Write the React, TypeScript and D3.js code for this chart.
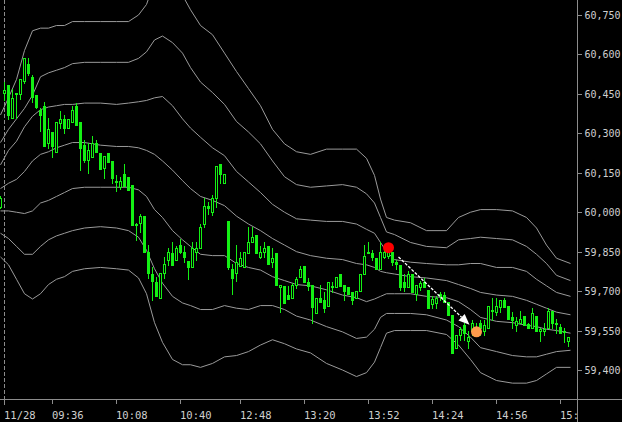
import React from "react";
import * as d3 from "d3";

// ---- candle data (index 0 = previous session's last bar) ----
const opens = [60020,60455,60485,60360,60450,60450,60500,60565,60515,60445,60390,60405,60265,60305,60230,60340,60355,60320,60345,60405,60345,60255,60200,60210,60265,60225,60170,60225,60195,60120,60095,60145,60135,60105,59950,59960,59985,59850,59765,59735,59675,59770,59820,59845,59820,59875,59850,59815,59790,59850,59865,59955,60025,60000,60055,60185,60110,59965,59785,59770,59795,59790,59845,59885,59915,59830,59850,59870,59810,59845,59715,59720,59685,59675,59725,59755,59795,59735,59725,59615,59675,59665,59645,59715,59715,59765,59725,59715,59695,59675,59700,59765,59845,59845,59825,59785,59830,59835,59850,59810,59800,59735,59715,59765,59690,59715,59735,59705,59650,59655,59690,59685,59660,59610,59485,59535,59570,59510,59550,59560,59580,59550,59560,59625,59620,59640,59665,59645,59600,59570,59580,59605,59575,59560,59605,59550,59550,59560,59625,59575,59565,59550,59510];
const highs = [60060,60495,60485,60470,60455,60505,60585,60585,60520,60445,60395,60420,60360,60305,60345,60385,60370,60355,60405,60415,60345,60275,60265,60290,60275,60225,60215,60225,60195,60140,60135,60185,60135,60105,59960,59995,59985,59875,59790,59755,59770,59830,59865,59885,59870,59900,59870,59815,59885,59885,59955,60055,60040,60065,60175,60185,60145,59965,59805,59875,59850,59850,59945,59945,59915,59870,59885,59870,59865,59845,59725,59720,59720,59730,59755,59795,59795,59750,59725,59675,59725,59695,59735,59735,59755,59765,59725,59715,59695,59700,59765,59875,59885,59855,59825,59885,59855,59870,59850,59820,59800,59765,59775,59765,59725,59740,59750,59705,59680,59680,59695,59695,59660,59610,59535,59565,59580,59550,59590,59580,59590,59590,59645,59675,59675,59665,59675,59645,59620,59600,59625,59605,59580,59635,59605,59560,59580,59635,59625,59595,59575,59560,59525];
const lows = [60015,60425,60355,60360,60360,60430,60490,60520,60420,60395,60310,60250,60245,60210,60230,60320,60300,60320,60345,60330,60160,60190,60150,60210,60230,60165,60130,60190,60110,60080,60090,60100,60085,59950,59895,59925,59850,59750,59665,59680,59675,59750,59800,59800,59820,59845,59810,59745,59790,59820,59865,59945,59995,59990,60020,60110,60110,59785,59690,59740,59795,59790,59845,59885,59845,59825,59830,59805,59790,59725,59620,59655,59670,59675,59710,59755,59735,59705,59580,59615,59660,59620,59645,59695,59715,59720,59665,59690,59650,59675,59700,59765,59845,59820,59785,59785,59825,59825,59800,59785,59705,59700,59715,59695,59665,59705,59715,59635,59635,59635,59665,59660,59610,59465,59485,59515,59515,59485,59535,59530,59535,59535,59560,59590,59610,59620,59640,59595,59560,59550,59580,59570,59560,59560,59550,59510,59535,59560,59560,59540,59540,59505,59490];
const closes = [60055,60465,60370,60435,60455,60505,60585,60530,60440,60400,60370,60250,60315,60250,60345,60355,60320,60355,60390,60330,60245,60200,60235,60265,60230,60165,60215,60190,60130,60115,60120,60100,60085,59950,59955,59985,59850,59770,59740,59680,59770,59805,59850,59800,59865,59850,59830,59790,59865,59865,59945,60025,60015,60055,60175,60145,60145,59790,59750,59810,59825,59850,59885,59905,59845,59850,59865,59805,59825,59725,59725,59655,59670,59725,59745,59785,59735,59720,59640,59675,59660,59635,59735,59720,59755,59720,59700,59690,59665,59700,59765,59835,59850,59830,59785,59850,59850,59850,59810,59805,59715,59715,59765,59695,59725,59730,59715,59635,59670,59675,59680,59660,59610,59465,59535,59555,59540,59525,59580,59540,59560,59570,59645,59630,59645,59665,59640,59595,59590,59585,59595,59570,59560,59615,59550,59555,59555,59625,59580,59580,59540,59545,59525];

// ---- band lines (sampled at bar positions) ----
const bandIdx = [0,2,4,6,8,10,12,14,16,18,21,25,29,32,34.5,36.5,38.5,40.5,43,45.5,47.5,50,53,56,59,62,65,68,71,74,77.5,81.5,85.5,89,91.5,93.5,95,96.5,98.5,102.5,106.5,111.5,114.5,117.5,120,124,128,131.5,134,136.5,139,142.5];
const bandP3 = [60370,60435,60505,60615,60690,60700,60700,60710,60710,60725,60725,60725,60725,60725,60750,60790,60875,60905,60875,60825,60770,60710,60675,60605,60535,60470,60405,60315,60260,60230,60220,60240,60240,60240,60205,60140,60050,59980,59970,59960,59930,59930,59980,60000,60010,60010,60005,59980,59940,59875,59825,59805];
const bandP2 = [60265,60315,60355,60395,60445,60515,60530,60540,60550,60565,60570,60570,60570,60570,60585,60610,60655,60670,60645,60605,60550,60495,60455,60410,60345,60305,60260,60195,60135,60105,60095,60100,60105,60095,60070,60035,59980,59925,59915,59885,59870,59865,59895,59900,59905,59900,59895,59870,59840,59805,59760,59740];
const bandP1 = [60180,60235,60270,60325,60365,60390,60400,60405,60410,60410,60415,60415,60410,60415,60420,60425,60435,60440,60405,60355,60320,60285,60245,60215,60155,60115,60075,60030,60000,59975,59970,59965,59965,59955,59935,59920,59885,59850,59820,59810,59805,59800,59800,59805,59805,59790,59790,59775,59745,59720,59695,59680];
const bandMid = [60090,60110,60125,60155,60195,60220,60230,60245,60255,60265,60265,60255,60250,60250,60245,60235,60220,60195,60160,60120,60090,60060,60045,60025,59985,59955,59930,59900,59875,59850,59835,59825,59820,59805,59800,59790,59775,59770,59765,59755,59750,59740,59725,59710,59695,59685,59680,59665,59650,59635,59620,59610];
const bandM1 = [60005,60005,60000,59995,60005,60035,60045,60060,60075,60090,60095,60095,60095,60095,60085,60060,60010,59980,59930,59895,59870,59840,59835,59835,59805,59790,59780,59755,59740,59725,59720,59705,59685,59675,59660,59670,59680,59690,59690,59690,59680,59675,59660,59630,59600,59585,59580,59570,59565,59555,59550,59540];
const bandM2 = [59920,59900,59870,59840,59840,59870,59895,59910,59920,59930,59940,59945,59940,59930,59905,59855,59785,59730,59680,59655,59645,59630,59630,59645,59635,59630,59645,59645,59630,59605,59590,59565,59545,59520,59525,59555,59600,59615,59615,59615,59610,59590,59565,59525,59485,59470,59455,59450,59450,59460,59470,59475];
const bandM3 = [59830,59800,59745,59690,59670,59690,59725,59745,59755,59775,59785,59790,59785,59780,59750,59690,59580,59505,59440,59420,59420,59410,59425,59450,59455,59470,59495,59515,59500,59480,59465,59425,59400,59375,59390,59430,59485,59540,59550,59550,59550,59535,59495,59440,59390,59360,59350,59350,59360,59385,59410,59410];

// ---- axes ----
const priceTicks = [59400,59550,59700,59850,60000,60150,60300,60450,60600,60750];
const timeTickIdx = [1,13,29,45,60,76,92,108,124,140];
const timeLabels = ["11/28","09:36","10:08","10:40","12:48","13:20","13:52","14:24","14:56","15:"];

// ---- annotations ----
const redMark = { idx: 97, price: 59865 };
const orangeMark = { idx: 119, price: 59545 };
const arrowFrom = { idx: 99.5, price: 59830 };
const arrowTo = { idx: 117.25, price: 59572 };

const W = 622, H = 422;
const PLOT_R = 577, PLOT_B = 399;
const GREEN = "#14f014";
const BAND = "#9a9a9a";
const AXIS = "#8c8c8c";
const TEXT = "#cfcfcf";
const FONT = "'DejaVu Sans Mono', 'Liberation Mono', monospace";

export default function App() {
  const x = d3.scaleLinear().domain([0, 144]).range([0.5, 576.5]);
  const y = d3.scaleLinear().domain([59400, 60750]).range([370, 15]);

  const bands = [bandP3, bandP2, bandP1, bandMid, bandM1, bandM2, bandM3];
  const line = d3.line<number>().x((_, i) => x(bandIdx[i])).y((v) => y(v));

  const candles = opens.map((o, i) => {
    const c = closes[i];
    const cx = Math.round(x(i) - 0.5) + 0.5;
    const yH = Math.round(y(highs[i]));
    const yL = Math.round(y(lows[i]));
    const top = Math.round(y(Math.max(o, c)));
    const bot = Math.round(y(Math.min(o, c)));
    const up = c >= o;
    const els: React.ReactNode[] = [];
    els.push(<line key="w" x1={cx} x2={cx} y1={yH} y2={yL + 1} stroke={GREEN} strokeWidth={1} />);
    if (bot - top < 2) {
      els.push(<rect key="b" x={cx - 1.5} y={top} width={3} height={Math.max(1, bot - top + 1)} fill={GREEN} />);
    } else if (up) {
      els.push(<rect key="b" x={cx - 1} y={top + 0.5} width={2} height={bot - top} fill="#000" stroke={GREEN} strokeWidth={1} />);
    } else {
      els.push(<rect key="b" x={cx - 1.5} y={top} width={3} height={bot - top + 1} fill={GREEN} />);
    }
    return <g key={i}>{els}</g>;
  });

  // arrow geometry
  const ax1 = x(arrowFrom.idx), ay1 = y(arrowFrom.price);
  const ax2 = x(arrowTo.idx), ay2 = y(arrowTo.price);
  const ang = Math.atan2(ay2 - ay1, ax2 - ax1);
  const headLen = 11, headHalf = 4.5;
  const bx = ax2 - headLen * Math.cos(ang), by = ay2 - headLen * Math.sin(ang);
  const px = -Math.sin(ang) * headHalf, py = Math.cos(ang) * headHalf;
  const head = `${ax2},${ay2} ${bx + px},${by + py} ${bx - px},${by - py}`;

  const fmt = d3.format(",");

  return (
    <svg width={W} height={H} style={{ position: "absolute", left: 0, top: 0, background: "#000" }}>
      <defs>
        <clipPath id="plot">
          <rect x={0} y={0} width={PLOT_R} height={PLOT_B} />
        </clipPath>
      </defs>
      <rect x={0} y={0} width={W} height={H} fill="#000" />
      <g clipPath="url(#plot)">
        {bands.map((b, k) => (
          <path key={k} d={line(b) || ""} fill="none" stroke={BAND} strokeWidth={1} />
        ))}
        <line x1={x(1)} x2={x(1)} y1={0} y2={PLOT_B} stroke={AXIS} strokeWidth={1} strokeDasharray="4,2" />
        {candles}
        <line x1={ax1} y1={ay1} x2={bx} y2={by} stroke="#ffffff" strokeWidth={1.3} strokeDasharray="3,1.5" />
        <polygon points={head} fill="#fff" />
        <circle cx={x(redMark.idx)} cy={y(redMark.price)} r={5.5} fill="#ff0000" />
        <circle cx={x(orangeMark.idx)} cy={y(orangeMark.price)} r={5.5} fill="#ff9a4c" />
      </g>
      {/* axes */}
      <line x1={PLOT_R + 0.5} x2={PLOT_R + 0.5} y1={0} y2={H} stroke={AXIS} strokeWidth={1} />
      <line x1={0} x2={W} y1={PLOT_B + 0.5} y2={PLOT_B + 0.5} stroke={AXIS} strokeWidth={1} />
      <line x1={x(1)} x2={x(1)} y1={PLOT_B} y2={PLOT_B + 6} stroke={AXIS} strokeWidth={1} />
      {priceTicks.map((v) => {
        const ty = Math.round(y(v)) + 0.5;
        const s = fmt(v);
        return (
          <g key={v}>
            <line x1={PLOT_R + 1} x2={PLOT_R + 5} y1={ty} y2={ty} stroke={AXIS} strokeWidth={1} />
            <text x={584.5} y={ty + 3.5} fill={TEXT} fontSize={10} fontFamily={FONT}>{s}</text>
          </g>
        );
      })}
      {timeTickIdx.map((idx, k) => {
        const tx = Math.round(x(idx) - 0.5) + 0.5;
        const s = timeLabels[k];
        return (
          <g key={idx}>
            <line x1={tx} x2={tx} y1={PLOT_B + 1} y2={PLOT_B + 5} stroke={AXIS} strokeWidth={1} />
            <text x={tx - 0.5} y={419} fill={TEXT} fontSize={10.5} fontFamily={FONT}>{s}</text>
          </g>
        );
      })}
    </svg>
  );
}
